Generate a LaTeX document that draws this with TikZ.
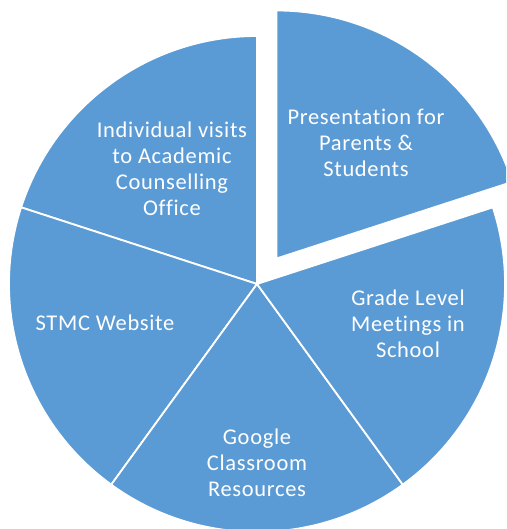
\documentclass[tikz,border=0pt]{standalone}
\usepackage{fontspec}
\setmainfont{Carlito}[LetterSpace=3,Ligatures=NoCommon]
\definecolor{pieblue}{HTML}{5B9BD5}
\begin{document}
\begin{tikzpicture}[x=1pt,y=1pt,
  slice/.style={fill=pieblue, draw=white, line width=1.8pt, line join=round},
  lbl/.style={text=white, align=center, font=\fontsize{22.5}{26}\selectfont, inner sep=0pt}]
\useasboundingbox (0,0) rectangle (506,529);
\clip (0,0) rectangle (506,529);
\fill[white] (0,0) rectangle (506,529);
\coordinate (c) at (257,245);
\coordinate (e) at (276.5,270.5);
% slices
\draw[slice] (c) -- ++(90:248) arc[start angle=90,end angle=162,radius=248] -- cycle;
\draw[slice] (c) -- ++(162:248) arc[start angle=162,end angle=234,radius=248] -- cycle;
\draw[slice] (c) -- ++(234:248) arc[start angle=234,end angle=306,radius=248] -- cycle;
\draw[slice] (c) -- ++(306:248) arc[start angle=306,end angle=378,radius=248] -- cycle;
\draw[slice] (e) -- ++(18:248) arc[start angle=18,end angle=90,radius=248] -- cycle;
% labels
\node[lbl] (pres) at (366,386) {Presentation for\\Parents \&\\Students};
\node[lbl] (indiv) at (172,360) {Individual visits\\to Academic\\Counselling\\Office};
\node[lbl] (stmc) at (105,206) {STMC Website};
\node[lbl] (grade) at (408,205) {Grade Level\\Meetings in\\School};
\node[lbl] (google) at (257,66) {Google\\Classroom\\Resources};
\end{tikzpicture}
\end{document}
